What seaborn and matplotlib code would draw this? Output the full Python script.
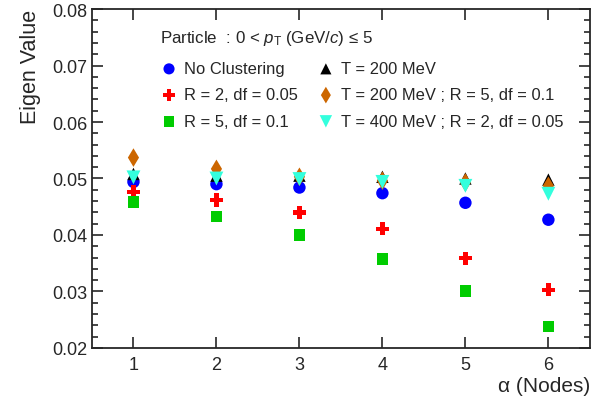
import pandas as pd
import matplotlib
matplotlib.use('Agg')
import matplotlib.pyplot as plt
import seaborn as sns
from matplotlib.ticker import MultipleLocator

# Eigen values, one list per series
nodes = [1, 2, 3, 4, 5, 6]
no_clustering = [0.0494, 0.0490, 0.0484, 0.0474, 0.0457, 0.0427]
r2_df005 = [0.0476, 0.0462, 0.0440, 0.0411, 0.0359, 0.0303]
r5_df01 = [0.0458, 0.0433, 0.0400, 0.0358, 0.0301, 0.0238]
t200 = [0.0508, 0.0505, 0.0505, 0.0503, 0.0500, 0.0498]
t200_r5 = [0.0537, 0.0517, 0.0503, 0.0496, 0.0493, 0.0487]
t400_r2 = [0.0502, 0.0500, 0.0499, 0.0494, 0.0487, 0.0473]

series = [
    ('No Clustering', no_clustering, 'o', '#0000ff', 80),
    ('R = 2, df = 0.05', r2_df005, 'P', '#ff0000', 90),
    ('R = 5, df = 0.1', r5_df01, 's', '#00cc00', 70),
    ('T = 200 MeV', t200, '^', '#000000', 80),
    ('T = 200 MeV ; R = 5, df = 0.1', t200_r5, 'd', '#cc6600', 90),
    ('T = 400 MeV ; R = 2, df = 0.05', t400_r2, 'v', '#33ffdd', 100),
]

sns.set_style('ticks')
plt.rcParams['font.family'] = ['Liberation Sans', 'DejaVu Sans']
plt.rcParams['mathtext.fontset'] = 'custom'
plt.rcParams['mathtext.it'] = 'Liberation Sans:italic'
plt.rcParams['mathtext.rm'] = 'Liberation Sans'

fig = plt.figure(figsize=(6.05, 4.02), dpi=100)
ax = fig.add_axes([0.152, 0.132, 0.823, 0.843])

handles = []
for name, vals, mk, col, size in series:
    df = pd.DataFrame({'x': nodes, 'y': vals})
    sns.scatterplot(data=df, x='x', y='y', marker=mk, color=col, s=size,
                    edgecolor='none', linewidth=0, ax=ax, zorder=3)
    h = ax.scatter([], [], marker=mk, color=col, s=size * 0.8, edgecolor='none')
    handles.append((h, name))

ax.set_xlim(0.5, 6.5)
ax.set_ylim(0.02, 0.08)
ax.xaxis.set_major_locator(MultipleLocator(1))
ax.yaxis.set_major_locator(MultipleLocator(0.01))
ax.yaxis.set_minor_locator(MultipleLocator(0.002))
ax.yaxis.set_major_formatter(matplotlib.ticker.FormatStrFormatter('%.2f'))
ax.tick_params(which='both', direction='in', top=True, right=True, labelsize=13, width=1.2)
ax.tick_params(which='major', length=8)
ax.tick_params(which='minor', length=4)
ax.tick_params(axis='x', pad=6)
for sp in ax.spines.values():
    sp.set_linewidth(1.3)

ax.set_xlabel('α (Nodes)', fontsize=15, loc='right', labelpad=2)
ax.set_ylabel('Eigen Value', fontsize=15.5, loc='top', labelpad=8)

ax.text(0.137, 0.917, r'Particle  : 0 < $p_{\mathrm{T}}$ (GeV/$c$) ≤ 5',
        transform=ax.transAxes, fontsize=12.2, va='center')

leg = ax.legend([h for h, _ in handles], [n for _, n in handles], ncol=2,
                loc='upper left', bbox_to_anchor=(0.1, 0.89), frameon=False,
                fontsize=11.9, handletextpad=0.15, columnspacing=0.95,
                labelspacing=0.68, handlelength=1.5)

fig.savefig('out.png', dpi=100)
